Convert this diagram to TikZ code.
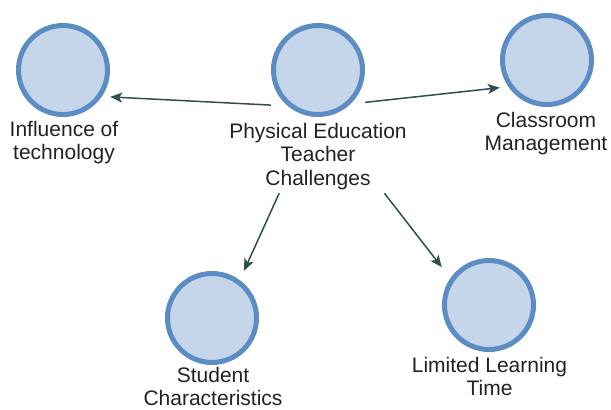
\documentclass[tikz,border=0pt]{standalone}
\usepackage{fontspec}
\setmainfont{Liberation Sans}
\usetikzlibrary{arrows.meta}
\definecolor{cfill}{HTML}{C5D5EA}
\definecolor{cline}{HTML}{5B8DC4}
\definecolor{arr}{HTML}{2F4F4C}
\definecolor{txt}{HTML}{222222}
\begin{document}
\begin{tikzpicture}[x=1pt,y=-1pt,
  topic/.style={circle,draw=cline,fill=cfill,line width=5pt,minimum size=89pt,inner sep=0pt},
  lbl/.style={anchor=north,align=center,inner sep=0pt,text=txt,font=\fontsize{21}{23.5}\selectfont},
  grp/.style={draw=none,inner sep=0pt,minimum width=94pt},
  edge/.style={draw=arr,line width=1.5pt,-{Stealth[length=12pt,width=10pt,inset=3pt]}}]
\useasboundingbox (0,0) rectangle (611,410);
% circles
\node[topic] (cpe) at (318,70) {};
\node[topic] (cinf) at (63,70) {};
\node[topic] (ccls) at (547,60) {};
\node[topic] (cstu) at (212,318) {};
\node[topic] (clim) at (489,305) {};
% labels
\node[lbl] (lpe) at (318,122.8) {Physical Education\\Teacher\\Challenges};
\node[lbl] (linf) at (64,120.8) {Influence of\\technology};
\node[lbl] (lcls) at (546,111.8) {Classroom\\Management};
\node[lbl,font=\fontsize{21}{23}\selectfont] (lstu) at (213,367.3) {Student\\Characteristics};
\node[lbl] (llim) at (489.5,356.8) {Limited Learning\\Time};
% invisible group boxes (circle + label)
\node[grp,minimum height=169pt] (pe) at (318,107.5) {};
\node[grp,minimum width=150pt,minimum height=171pt] (pes) at (318,107.5) {};
\node[grp,minimum height=141pt] (inf) at (63,94.5) {};
\node[grp,minimum height=139pt] (cls) at (547,82.5) {};
\node[grp,minimum height=141pt] (stu) at (212,341.5) {};
\node[grp,minimum height=140pt] (lim) at (489,328) {};
% connectors
\draw[edge] (pe) -- (inf);
\draw[edge] (pe) -- (cls);
\draw[edge] (pes) -- (stu);
\draw[edge] (pes) -- (lim);
\end{tikzpicture}
\end{document}
